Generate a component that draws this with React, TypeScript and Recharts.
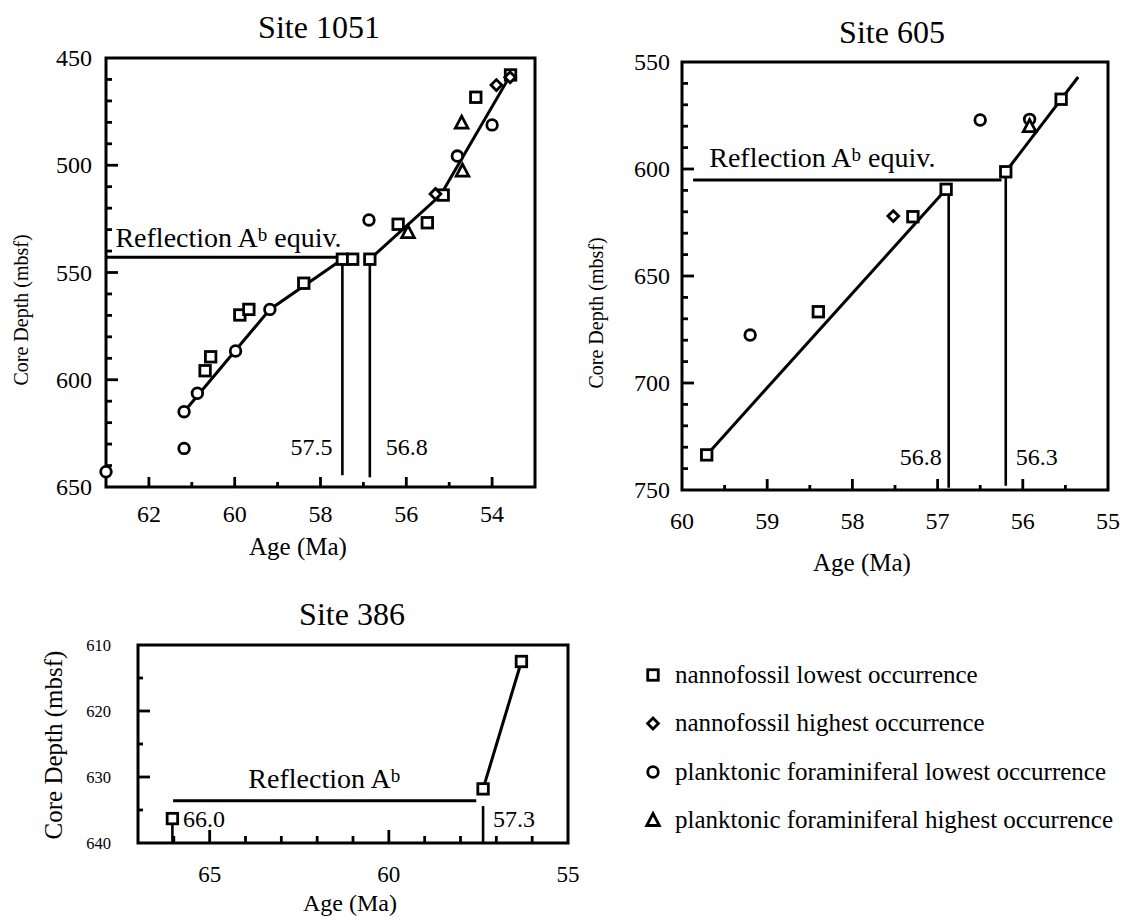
import React from 'react';
import { ComposedChart, Scatter, XAxis, YAxis, ReferenceLine, ReferenceArea } from 'recharts';

const FONT = '"Liberation Serif", "Times New Roman", Times, serif';
const INK = '#000';

type Pt = { age: number; depth: number };

// ---------------- Site 1051 ----------------
const s1051NannoLowest: Pt[] = [
  { age: 60.69, depth: 595.8 },
  { age: 60.56, depth: 589.3 },
  { age: 59.88, depth: 569.8 },
  { age: 59.67, depth: 567.2 },
  { age: 58.39, depth: 555.0 },
  { age: 57.49, depth: 543.8 },
  { age: 57.25, depth: 543.8 },
  { age: 56.85, depth: 543.8 },
  { age: 56.19, depth: 527.5 },
  { age: 55.51, depth: 526.8 },
  { age: 55.14, depth: 513.9 },
  { age: 54.38, depth: 468.3 },
  { age: 53.57, depth: 457.9 },
];
const s1051NannoHighest: Pt[] = [
  { age: 55.32, depth: 513.4 },
  { age: 53.9, depth: 462.6 },
  { age: 53.58, depth: 459.0 },
];
const s1051ForamLowest: Pt[] = [
  { age: 63.0, depth: 642.9 },
  { age: 61.18, depth: 632.0 },
  { age: 61.18, depth: 614.9 },
  { age: 60.87, depth: 606.3 },
  { age: 59.98, depth: 586.6 },
  { age: 59.18, depth: 567.2 },
  { age: 56.87, depth: 525.5 },
  { age: 54.81, depth: 495.7 },
  { age: 54.0, depth: 481.2 },
];
const s1051ForamHighest: Pt[] = [
  { age: 55.96, depth: 531.4 },
  { age: 54.71, depth: 480.4 },
  { age: 54.69, depth: 502.7 },
];
const s1051LowerTrend: Pt[] = [
  { age: 61.18, depth: 614.9 },
  { age: 59.18, depth: 567.2 },
  { age: 57.49, depth: 543.8 },
];
const s1051UpperTrend: Pt[] = [
  { age: 56.85, depth: 543.8 },
  { age: 55.2, depth: 513.9 },
  { age: 53.57, depth: 457.9 },
];
const s1051Reflection = { fromAge: 63, toAge: 57.49, depth: 542.9 };
const s1051Boundaries = [
  { age: 57.49, top: 543.8, bottom: 644.5 },
  { age: 56.85, top: 543.8, bottom: 645.5 },
];
const s1051XTicks = [62, 61, 60, 59, 58, 57, 56, 55, 54];
const s1051XLabels = [62, 60, 58, 56, 54];
const s1051YTicks = [450, 460, 470, 480, 490, 500, 510, 520, 530, 540, 550, 560, 570, 580, 590, 600, 610, 620, 630, 640, 650];
const s1051YLabels = [450, 500, 550, 600, 650];

// ---------------- Site 605 ----------------
const s605NannoLowest: Pt[] = [
  { age: 59.71, depth: 733.6 },
  { age: 58.4, depth: 666.7 },
  { age: 57.29, depth: 622.3 },
  { age: 56.9, depth: 609.5 },
  { age: 56.2, depth: 601.3 },
  { age: 55.55, depth: 567.4 },
];
const s605NannoHighest: Pt[] = [{ age: 57.52, depth: 622.0 }];
const s605ForamLowest: Pt[] = [
  { age: 59.2, depth: 677.6 },
  { age: 56.5, depth: 577.1 },
  { age: 55.92, depth: 576.8 },
];
const s605ForamHighest: Pt[] = [{ age: 55.92, depth: 580.2 }];
const s605LowerTrend: Pt[] = [
  { age: 59.71, depth: 733.6 },
  { age: 56.9, depth: 609.5 },
];
const s605UpperTrend: Pt[] = [
  { age: 56.2, depth: 601.3 },
  { age: 55.35, depth: 557.0 },
];
const s605Reflection = { fromAge: 59.87, toAge: 56.25, depth: 605.1 };
const s605Boundaries = [
  { age: 56.87, top: 609.5, bottom: 749.0 },
  { age: 56.2, top: 601.3, bottom: 748.0 },
];
const s605XTicks = [60, 59.5, 59, 58.5, 58, 57.5, 57, 56.5, 56, 55.5, 55];
const s605XLabels = [60, 59, 58, 57, 56, 55];
const s605YTicks = [550, 560, 570, 580, 590, 600, 610, 620, 630, 640, 650, 660, 670, 680, 690, 700, 710, 720, 730, 740, 750];
const s605YLabels = [550, 600, 650, 700, 750];

// ---------------- Site 386 ----------------
const s386NannoLowest: Pt[] = [
  { age: 66.04, depth: 636.3 },
  { age: 57.37, depth: 631.8 },
  { age: 56.3, depth: 612.5 },
];
const s386Trend: Pt[] = [
  { age: 57.37, depth: 631.8 },
  { age: 56.3, depth: 612.5 },
];
const s386Reflection = { fromAge: 66.02, toAge: 57.56, depth: 633.6 };
const s386Boundaries = [
  { age: 66.04, top: 636.3, bottom: 640 },
  { age: 57.37, top: 634.4, bottom: 640 },
];
const s386XTicks = [67, 66, 65, 64, 63, 62, 61, 60, 59, 58, 57, 56, 55];
const s386XLabels = [65, 60, 55];
const s386YTicks = [610, 615, 620, 625, 630, 635, 640];
const s386YLabels = [610, 620, 630, 640];

// ---------------- legend ----------------
const legendItems = [
  { kind: 'square', text: 'nannofossil lowest occurrence' },
  { kind: 'diamond', text: 'nannofossil highest occurrence' },
  { kind: 'circle', text: 'planktonic foraminiferal lowest occurrence' },
  { kind: 'triangle', text: 'planktonic foraminiferal highest occurrence' },
];

// ---------------- marker shapes ----------------
const MSW = 2.8;
const SquareMark = (p: any) => {
  const s = 10.5;
  return <rect x={p.cx - s / 2} y={p.cy - s / 2} width={s} height={s} fill="#fff" stroke={INK} strokeWidth={MSW} />;
};
const DiamondMark = (p: any) => {
  const r = 5.4;
  return (
    <polygon
      points={`${p.cx},${p.cy - r} ${p.cx + r},${p.cy} ${p.cx},${p.cy + r} ${p.cx - r},${p.cy}`}
      fill="#fff"
      stroke={INK}
      strokeWidth={MSW}
    />
  );
};
const CircleMark = (p: any) => <circle cx={p.cx} cy={p.cy} r={5.3} fill="#fff" stroke={INK} strokeWidth={MSW} />;
const TriangleMark = (p: any) => (
  <polygon
    points={`${p.cx},${p.cy - 7} ${p.cx + 6.3},${p.cy + 5} ${p.cx - 6.3},${p.cy + 5}`}
    fill="#fff"
    stroke={INK}
    strokeWidth={MSW}
    strokeLinejoin="miter"
  />
);
const NoMark = () => <g />;

const markFor: Record<string, (p: any) => React.ReactElement> = {
  square: SquareMark,
  diamond: DiamondMark,
  circle: CircleMark,
  triangle: TriangleMark,
};

// ---------------- tick renderers ----------------
const near = (arr: number[], v: number) => arr.some((a) => Math.abs(a - v) < 1e-6);

function xTick(cfg: {
  labels: number[];
  majors: number[];
  edges: number[];
  majorLen: number;
  minorLen: number;
  fontSize: number;
  offset: number;
}) {
  return (props: any) => {
    const { x, y, payload } = props;
    const v = payload.value as number;
    const len = near(cfg.edges, v) ? 0 : near(cfg.majors, v) ? cfg.majorLen : cfg.minorLen;
    return (
      <g>
        {len > 0 && <line x1={x} x2={x} y1={y} y2={y - len} stroke={INK} strokeWidth={2.8} />}
        {near(cfg.labels, v) && (
          <text x={x} y={y + cfg.offset} textAnchor="middle" fontFamily={FONT} fontSize={cfg.fontSize} fill={INK}>
            {v}
          </text>
        )}
      </g>
    );
  };
}

function yTick(cfg: {
  labels: number[];
  majors: number[];
  edges: number[];
  majorLen: number;
  minorLen: number;
  fontSize: number;
  gap: number;
}) {
  return (props: any) => {
    const { x, y, payload } = props;
    const v = payload.value as number;
    const len = near(cfg.edges, v) ? 0 : near(cfg.majors, v) ? cfg.majorLen : cfg.minorLen;
    return (
      <g>
        {len > 0 && <line x1={x} x2={x + len} y1={y} y2={y} stroke={INK} strokeWidth={2.8} />}
        {near(cfg.labels, v) && (
          <text
            x={x - cfg.gap}
            y={y + cfg.fontSize * 0.34}
            textAnchor="end"
            fontFamily={FONT}
            fontSize={cfg.fontSize}
            fill={INK}
          >
            {v}
          </text>
        )}
      </g>
    );
  };
}

// ---------------- annotation renderers ----------------
const noteShape = (text: string, dx: number, anchor: 'start' | 'end', size: number) => (p: any) =>
  (
    <text x={p.cx + dx} y={p.cy} textAnchor={anchor} fontFamily={FONT} fontSize={size} fill={INK}>
      {text}
    </text>
  );

const reflectionShape = (suffix: string) => (p: any) =>
  (
    <text x={p.cx} y={p.cy} fontFamily={FONT} fontSize={28} fill={INK} style={{ whiteSpace: 'pre' }}>
      <tspan>Reflection A</tspan>
      <tspan dy={-6} fontSize={19}>
        b
      </tspan>
      <tspan dy={6}>{suffix}</tspan>
    </text>
  );

const lineStyle = { stroke: INK, strokeWidth: 3 };

export default function App() {
  return (
    <div
      style={{
        position: 'absolute',
        left: 0,
        top: 0,
        width: 1125,
        height: 917,
        background: '#fff',
        overflow: 'hidden',
      }}
    >
      {/* ---------- Site 1051 ---------- */}
      <div style={{ position: 'absolute', left: 0, top: 0 }}>
        <ComposedChart width={560} height={560} margin={{ top: 58, right: 25, bottom: 0, left: 0 }}>
          <XAxis
            dataKey="age"
            type="number"
            domain={[53, 63]}
            reversed
            ticks={s1051XTicks}
            interval={0}
            height={73}
            axisLine={false}
            tickLine={false}
            tickSize={0}
            tickMargin={0}
            tick={xTick({ labels: s1051XLabels, majors: s1051XLabels, edges: [], majorLen: 10, minorLen: 5, fontSize: 24, offset: 35 })}
          />
          <YAxis
            dataKey="depth"
            type="number"
            domain={[450, 650]}
            reversed
            ticks={s1051YTicks}
            interval={0}
            width={106}
            axisLine={false}
            tickLine={false}
            tickSize={0}
            tickMargin={0}
            tick={yTick({ labels: s1051YLabels, majors: s1051YLabels, edges: [450, 650], majorLen: 12, minorLen: 6, fontSize: 24, gap: 14 })}
          />
          <ReferenceArea x1={53} x2={63} y1={450} y2={650} fill="none" stroke={INK} strokeWidth={3} ifOverflow="visible" />
          <ReferenceLine
            segment={[
              { x: s1051Reflection.fromAge, y: s1051Reflection.depth },
              { x: s1051Reflection.toAge, y: s1051Reflection.depth },
            ]}
            stroke={INK}
            strokeWidth={3}
            ifOverflow="visible"
          />
          {s1051Boundaries.map((b, i) => (
            <ReferenceLine
              key={`b1051-${i}`}
              segment={[
                { x: b.age, y: b.top },
                { x: b.age, y: b.bottom },
              ]}
              stroke={INK}
              strokeWidth={2.6}
              ifOverflow="visible"
            />
          ))}
          <Scatter data={s1051LowerTrend} line={lineStyle} lineType="joint" shape={NoMark} isAnimationActive={false} />
          <Scatter data={s1051UpperTrend} line={lineStyle} lineType="joint" shape={NoMark} isAnimationActive={false} />
          <Scatter data={s1051ForamLowest} shape={CircleMark} isAnimationActive={false} />
          <Scatter data={s1051ForamHighest} shape={TriangleMark} isAnimationActive={false} />
          <Scatter data={s1051NannoLowest} shape={SquareMark} isAnimationActive={false} />
          <Scatter data={s1051NannoHighest} shape={DiamondMark} isAnimationActive={false} />
          <Scatter data={[{ age: 57.49, depth: 635.1 }]} shape={noteShape('57.5', -10, 'end', 24)} isAnimationActive={false} />
          <Scatter data={[{ age: 56.85, depth: 635.1 }]} shape={noteShape('56.8', 16, 'start', 24)} isAnimationActive={false} />
          <Scatter data={[{ age: 62.78, depth: 538 }]} shape={reflectionShape(' equiv.')} isAnimationActive={false} />
        </ComposedChart>
      </div>

      {/* ---------- Site 605 ---------- */}
      <div style={{ position: 'absolute', left: 560, top: 0 }}>
        <ComposedChart width={565} height={565} margin={{ top: 62, right: 17, bottom: 0, left: 0 }}>
          <XAxis
            dataKey="age"
            type="number"
            domain={[55, 60]}
            reversed
            ticks={s605XTicks}
            interval={0}
            height={75}
            axisLine={false}
            tickLine={false}
            tickSize={0}
            tickMargin={0}
            tick={xTick({ labels: s605XLabels, majors: s605XLabels, edges: [60, 55], majorLen: 11, minorLen: 5, fontSize: 24, offset: 39 })}
          />
          <YAxis
            dataKey="depth"
            type="number"
            domain={[550, 750]}
            reversed
            ticks={s605YTicks}
            interval={0}
            width={122}
            axisLine={false}
            tickLine={false}
            tickSize={0}
            tickMargin={0}
            tick={yTick({ labels: s605YLabels, majors: s605YLabels, edges: [550, 750], majorLen: 12, minorLen: 6, fontSize: 24, gap: 12 })}
          />
          <ReferenceArea x1={55} x2={60} y1={550} y2={750} fill="none" stroke={INK} strokeWidth={3} ifOverflow="visible" />
          <ReferenceLine
            segment={[
              { x: s605Reflection.fromAge, y: s605Reflection.depth },
              { x: s605Reflection.toAge, y: s605Reflection.depth },
            ]}
            stroke={INK}
            strokeWidth={3}
            ifOverflow="visible"
          />
          {s605Boundaries.map((b, i) => (
            <ReferenceLine
              key={`b605-${i}`}
              segment={[
                { x: b.age, y: b.top },
                { x: b.age, y: b.bottom },
              ]}
              stroke={INK}
              strokeWidth={2.6}
              ifOverflow="visible"
            />
          ))}
          <Scatter data={s605LowerTrend} line={lineStyle} lineType="joint" shape={NoMark} isAnimationActive={false} />
          <Scatter data={s605UpperTrend} line={lineStyle} lineType="joint" shape={NoMark} isAnimationActive={false} />
          <Scatter data={s605ForamLowest} shape={CircleMark} isAnimationActive={false} />
          <Scatter data={s605ForamHighest} shape={TriangleMark} isAnimationActive={false} />
          <Scatter data={s605NannoLowest} shape={SquareMark} isAnimationActive={false} />
          <Scatter data={s605NannoHighest} shape={DiamondMark} isAnimationActive={false} />
          <Scatter data={[{ age: 56.87, depth: 738.3 }]} shape={noteShape('56.8', -7, 'end', 24)} isAnimationActive={false} />
          <Scatter data={[{ age: 56.2, depth: 738.3 }]} shape={noteShape('56.3', 10, 'start', 24)} isAnimationActive={false} />
          <Scatter data={[{ age: 59.68, depth: 598.9 }]} shape={reflectionShape(' equiv.')} isAnimationActive={false} />
        </ComposedChart>
      </div>

      {/* ---------- Site 386 ---------- */}
      <div style={{ position: 'absolute', left: 0, top: 600 }}>
        <ComposedChart width={600} height={317} margin={{ top: 45, right: 32, bottom: 0, left: 0 }}>
          <XAxis
            dataKey="age"
            type="number"
            domain={[55, 67]}
            reversed
            ticks={s386XTicks}
            interval={0}
            height={74}
            axisLine={false}
            tickLine={false}
            tickSize={0}
            tickMargin={0}
            tick={xTick({ labels: s386XLabels, majors: [65, 60], edges: [67, 55], majorLen: 13, minorLen: 7, fontSize: 23, offset: 39 })}
          />
          <YAxis
            dataKey="depth"
            type="number"
            domain={[610, 640]}
            reversed
            ticks={s386YTicks}
            interval={0}
            width={138}
            axisLine={false}
            tickLine={false}
            tickSize={0}
            tickMargin={0}
            tick={yTick({ labels: s386YLabels, majors: [620, 630], edges: [610, 640], majorLen: 12, minorLen: 5, fontSize: 16.5, gap: 27 })}
          />
          <ReferenceArea x1={55} x2={67} y1={610} y2={640} fill="none" stroke={INK} strokeWidth={3} ifOverflow="visible" />
          <ReferenceLine
            segment={[
              { x: s386Reflection.fromAge, y: s386Reflection.depth },
              { x: s386Reflection.toAge, y: s386Reflection.depth },
            ]}
            stroke={INK}
            strokeWidth={3}
            ifOverflow="visible"
          />
          {s386Boundaries.map((b, i) => (
            <ReferenceLine
              key={`b386-${i}`}
              segment={[
                { x: b.age, y: b.top },
                { x: b.age, y: b.bottom },
              ]}
              stroke={INK}
              strokeWidth={2.6}
              ifOverflow="visible"
            />
          ))}
          <Scatter data={s386Trend} line={lineStyle} lineType="joint" shape={NoMark} isAnimationActive={false} />
          <Scatter data={s386NannoLowest} shape={SquareMark} isAnimationActive={false} />
          <Scatter data={[{ age: 66.04, depth: 637.5 }]} shape={noteShape('66.0', 10.6, 'start', 24)} isAnimationActive={false} />
          <Scatter data={[{ age: 57.37, depth: 637.5 }]} shape={noteShape('57.3', 10, 'start', 24)} isAnimationActive={false} />
          <Scatter data={[{ age: 63.92, depth: 631.7 }]} shape={reflectionShape('')} isAnimationActive={false} />
        </ComposedChart>
      </div>

      {/* ---------- titles, axis titles, legend ---------- */}
      <svg
        width={1125}
        height={917}
        style={{ position: 'absolute', left: 0, top: 0, pointerEvents: 'none' }}
        fontFamily={FONT}
        fill={INK}
      >
        <text x={319} y={38} fontSize={32} textAnchor="middle">Site 1051</text>
        <text x={892} y={43} fontSize={32} textAnchor="middle">Site 605</text>
        <text x={352} y={625} fontSize={32} textAnchor="middle">Site 386</text>

        <text x={298} y={555} fontSize={25} textAnchor="middle">Age (Ma)</text>
        <text x={862} y={571} fontSize={25} textAnchor="middle">Age (Ma)</text>
        <text x={350} y={911} fontSize={24} textAnchor="middle">Age (Ma)</text>

        <text x={0} y={0} fontSize={20} textAnchor="middle" transform="translate(28,310) rotate(-90)">Core Depth (mbsf)</text>
        <text x={0} y={0} fontSize={20} textAnchor="middle" transform="translate(603,313) rotate(-90)">Core Depth (mbsf)</text>
        <text x={0} y={0} fontSize={25} textAnchor="middle" transform="translate(62,745) rotate(-90)">Core Depth (mbsf)</text>

        {legendItems.map((it, i) => {
          const cy = 675 + i * 48.5;
          const Mark = markFor[it.kind];
          return (
            <g key={it.kind}>
              <Mark cx={653} cy={cy} />
              <text x={675} y={cy + 7.5} fontSize={25}>
                {it.text}
              </text>
            </g>
          );
        })}
      </svg>
    </div>
  );
}
